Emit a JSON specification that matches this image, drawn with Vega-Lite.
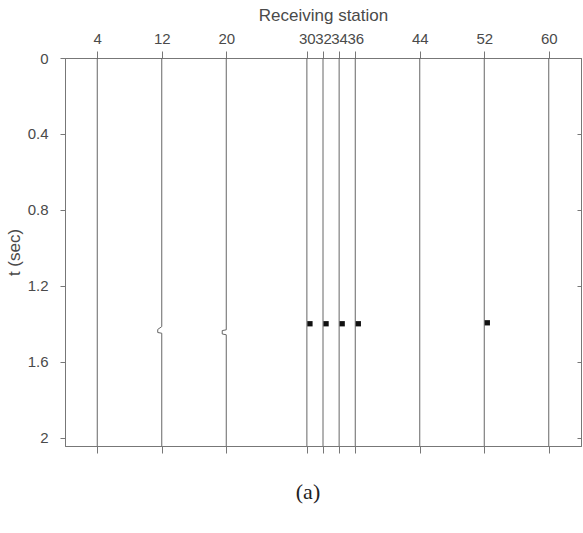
{
  "$schema": "https://vega.github.io/schema/vega-lite/v6.json",
  "width": 516,
  "height": 388,
  "autosize": "none",
  "padding": {"left": 65, "top": 58, "right": 2, "bottom": 87},
  "background": "white",
  "title": {
    "text": "(a)",
    "orient": "bottom",
    "anchor": "middle",
    "font": "Liberation Serif",
    "fontSize": 22,
    "fontWeight": "normal",
    "color": "#222",
    "offset": 28,
    "dx": -15
  },
  "config": {
    "view": {"stroke": "#777", "strokeWidth": 1},
    "axis": {
      "labelFont": "Liberation Sans",
      "labelFontSize": 15,
      "labelColor": "#4a4a4a",
      "titleFont": "Liberation Sans",
      "titleFontSize": 17,
      "titleFontWeight": "normal",
      "titleColor": "#4a4a4a",
      "domainColor": "#777",
      "tickColor": "#777",
      "grid": false
    }
  },
  "datasets": {
    "traces": [
      {"station": 4, "x": 4, "t": 0},
      {"station": 4, "x": 4, "t": 2.044},
      {"station": 12, "x": 12, "t": 0},
      {"station": 12, "x": 12, "t": 1.415},
      {"station": 12, "x": 11.5, "t": 1.43},
      {"station": 12, "x": 11.5, "t": 1.446},
      {"station": 12, "x": 12, "t": 1.45},
      {"station": 12, "x": 12, "t": 2.044},
      {"station": 20, "x": 20, "t": 0},
      {"station": 20, "x": 20, "t": 1.432},
      {"station": 20, "x": 19.5, "t": 1.436},
      {"station": 20, "x": 19.5, "t": 1.454},
      {"station": 20, "x": 20, "t": 1.458},
      {"station": 20, "x": 20, "t": 2.044},
      {"station": 30, "x": 30, "t": 0},
      {"station": 30, "x": 30, "t": 2.044},
      {"station": 32, "x": 32, "t": 0},
      {"station": 32, "x": 32, "t": 2.044},
      {"station": 34, "x": 34, "t": 0},
      {"station": 34, "x": 34, "t": 2.044},
      {"station": 36, "x": 36, "t": 0},
      {"station": 36, "x": 36, "t": 2.044},
      {"station": 44, "x": 44, "t": 0},
      {"station": 44, "x": 44, "t": 2.044},
      {"station": 52, "x": 52, "t": 0},
      {"station": 52, "x": 52, "t": 2.044},
      {"station": 60, "x": 60, "t": 0},
      {"station": 60, "x": 60, "t": 2.044}
    ],
    "arrivals": [
      {"station": 30, "x": 30.38, "t": 1.4},
      {"station": 32, "x": 32.38, "t": 1.4},
      {"station": 34, "x": 34.38, "t": 1.4},
      {"station": 36, "x": 36.38, "t": 1.4},
      {"station": 52, "x": 52.38, "t": 1.395}
    ]
  },
  "resolve": {"axis": {"x": "independent", "y": "independent"}},
  "layer": [
    {
      "data": {"name": "traces"},
      "mark": {"type": "line", "color": "#666", "strokeWidth": 1, "clip": true},
      "encoding": {
        "x": {
          "field": "x",
          "type": "quantitative",
          "scale": {"domain": [0, 64], "nice": false, "zero": false},
          "axis": {
            "orient": "top",
            "title": "Receiving station",
            "values": [4, 12, 20, 30, 32, 34, 36, 44, 52, 60],
            "labelOverlap": false,
            "labelFlush": false,
            "tickSize": 7,
            "labelPadding": 5,
            "titlePadding": 7,
            "domain": true
          }
        },
        "y": {
          "field": "t",
          "type": "quantitative",
          "scale": {"domain": [0, 2.044], "reverse": true, "nice": false, "zero": false},
          "axis": {
            "orient": "left",
            "title": "t (sec)",
            "values": [0, 0.4, 0.8, 1.2, 1.6, 2],
            "format": "~g",
            "labelFlush": false,
            "tickSize": 5,
            "labelPadding": 12,
            "titlePadding": 4
          }
        },
        "order": {"field": "t", "type": "quantitative"},
        "detail": {"field": "station", "type": "nominal"}
      }
    },
    {
      "data": {"name": "arrivals"},
      "mark": {"type": "square", "color": "#111", "filled": true, "opacity": 1, "size": 28},
      "encoding": {
        "x": {
          "field": "x",
          "type": "quantitative",
          "axis": {
            "orient": "bottom",
            "title": null,
            "values": [4, 12, 20, 30, 32, 34, 36, 44, 52, 60],
            "labels": false,
            "tickSize": 7
          }
        },
        "y": {
          "field": "t",
          "type": "quantitative",
          "axis": {
            "orient": "right",
            "title": null,
            "values": [0, 0.4, 0.8, 1.2, 1.6, 2],
            "labels": false,
            "tickSize": -4
          }
        }
      }
    }
  ]
}
